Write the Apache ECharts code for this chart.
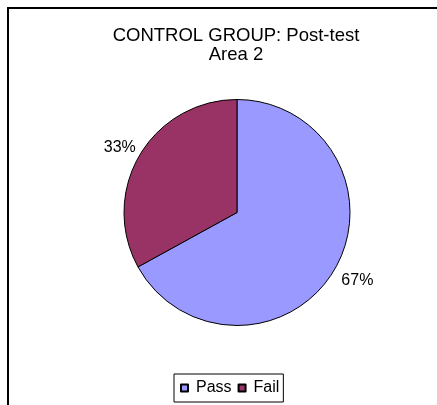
<!DOCTYPE html>
<html>
<head>
<meta charset="utf-8">
<script src="https://cdn.jsdelivr.net/npm/echarts@6/dist/echarts.min.js"></script>
<style>
  html, body { margin: 0; padding: 0; background: #fff; }
  #chart { width: 437px; height: 405px; }
</style>
</head>
<body>
<div id="chart"></div>
<script>
// Result shares for the control group, post-test, area 2
const categories = ['Pass', 'Fail'];
const shares = [67, 33];
const sliceColors = ['#9999FF', '#993366'];
const titleLines = ['CONTROL GROUP: Post-test', 'Area 2'];

// per-slice offsets of the percentage labels from the rim
const labelLineLength = [21, 15];
const labelShift = [-11, -9];

const chart = echarts.init(document.getElementById('chart'), null, { renderer: 'canvas' });
const font = '"Liberation Sans", Arial, sans-serif';

chart.setOption({
  backgroundColor: '#ffffff',
  animation: false,
  title: {
    text: titleLines.join('\n'),
    left: 231,
    top: 22,
    textAlign: 'center',
    textStyle: { fontFamily: font, fontSize: 18.5, fontWeight: 'normal', color: '#000', lineHeight: 18.5 }
  },
  legend: {
    data: categories,
    orient: 'horizontal',
    left: 174,
    top: 374,
    padding: [6, 4, 6, 6],
    itemWidth: 7,
    itemHeight: 7,
    itemGap: 6,
    icon: 'rect',
    borderColor: '#000',
    borderWidth: 1,
    textStyle: { fontFamily: font, fontSize: 16, color: '#000', padding: [0, 0, 0, 3] }
  },
  graphic: [
    { type: 'line', shape: { x1: 8, y1: 8, x2: 437, y2: 8 }, style: { stroke: '#000', lineWidth: 2 } },
    { type: 'line', shape: { x1: 8, y1: 7, x2: 8, y2: 405 }, style: { stroke: '#000', lineWidth: 2 } }
  ],
  series: [{
    type: 'pie',
    center: [237, 212.5],
    radius: 113,
    startAngle: 90,
    clockwise: true,
    avoidLabelOverlap: false,
    itemStyle: { borderColor: '#000', borderWidth: 1 },
    label: {
      show: true,
      position: 'outside',
      formatter: p => p.value + '%',
      fontFamily: font,
      fontSize: 16,
      color: '#000'
    },
    labelLine: { show: false, length: 18, length2: 0 },
    data: categories.map((name, i) => ({
      name,
      value: shares[i],
      itemStyle: { color: sliceColors[i] },
      label: { distanceToLabelLine: labelShift[i] },
      labelLine: { show: false, length: labelLineLength[i], length2: 0 }
    }))
  }]
});
</script>
</body>
</html>
